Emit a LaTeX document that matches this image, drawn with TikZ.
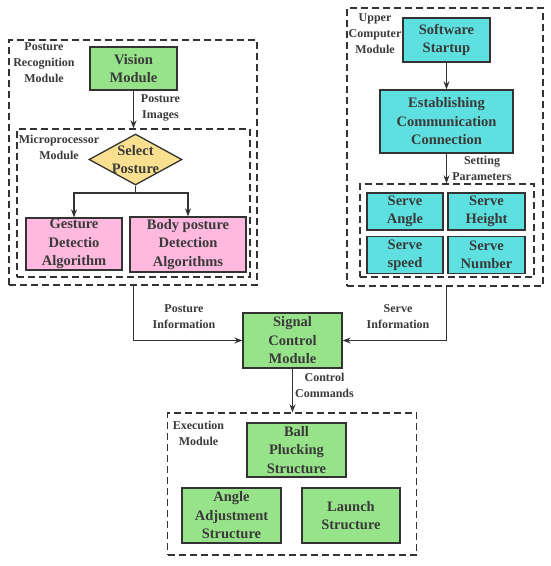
\documentclass[tikz,border=0pt]{standalone}
\usepackage{fontspec}
\setmainfont{Liberation Serif}
\usetikzlibrary{shapes.geometric,arrows.meta}
\definecolor{txt}{HTML}{3A3A3A}
\definecolor{edge}{HTML}{333333}
\definecolor{gfill}{HTML}{97E38A}
\definecolor{pfill}{HTML}{FFB8DE}
\definecolor{cfill}{HTML}{5EE0E0}
\definecolor{yfill}{HTML}{F9E090}
\tikzset{
  box/.style={draw=edge, line width=1.3pt, align=center, inner sep=0pt, text=txt,
    font=\fontsize{14.5}{18.5}\selectfont\bfseries},
  gbox/.style={box, fill=gfill},
  pbox/.style={box, fill=pfill},
  cbox/.style={box, fill=cfill},
  dbox/.style={draw=edge, line width=1.4pt, dash pattern=on 7pt off 4pt, inner sep=0pt},
  lab/.style={align=center, text=txt, inner sep=0pt, font=\fontsize{12}{16}\selectfont\bfseries},
  arr/.style={draw=edge, line width=1.2pt, -{Stealth[length=8pt,width=6pt]}},
  ln/.style={draw=edge, line width=1.2pt}
}
\begin{document}
\begin{tikzpicture}[x=1pt,y=-1pt]
\useasboundingbox[fill=white] (0,0) rectangle (550,566);
% dashed module boxes
\node[dbox, minimum width=248pt, minimum height=245pt] (prm) at (133,162.5) {};
\node[dbox, minimum width=233pt, minimum height=148pt] (micro) at (133.5,203) {};
\node[dbox, minimum width=196pt, minimum height=278pt] (ucm) at (445,147) {};
\node[dbox, minimum width=174pt, minimum height=93pt] (params) at (447,230.5) {};
\node[dbox, minimum width=249pt, minimum height=142pt] (exec) at (292,484) {};
% module labels
\node[lab] (prmlab) at (44,63) {Posture\\Recognition\\Module};
\node[lab] (microlab) at (59,147.5) {Microprocessor\\Module};
\node[lab] (ucmlab) at (375,34) {Upper\\Computer\\Module};
\node[lab] (execlab) at (198.5,433) {Execution\\Module};
% posture recognition
\node[gbox, minimum width=87pt, minimum height=43pt] (vision) at (133.5,68.5) {Vision\\Module};
\node[diamond, draw=edge, line width=1.3pt, fill=yfill, minimum width=93pt, minimum height=51pt, aspect=1.8, inner sep=0pt] (sel) at (135.5,159.5) {};
\node[box, draw=none] (seltxt) at (sel) {Select\\Posture};
\node[pbox, minimum width=96pt, minimum height=52pt] (gest) at (74,244) {Gesture\\Detectio\\Algorithm};
\node[pbox, minimum width=116pt, minimum height=55pt] (body) at (188,244.5) {Body posture\\Detection\\Algorithms};
% upper computer
\node[cbox, minimum width=87pt, minimum height=44pt] (soft) at (446.5,40) {Software\\Startup};
\node[cbox, minimum width=133pt, minimum height=63pt] (est) at (446.5,121.5) {Establishing\\Communication\\Connection};
\node[cbox, minimum width=76pt, minimum height=37pt] (angle) at (405,211.5) {Serve\\Angle};
\node[cbox, minimum width=77pt, minimum height=37pt] (height) at (486.5,211.5) {Serve\\Height};
\node[cbox, minimum width=76pt, minimum height=37pt] (speed) at (405,255) {Serve\\speed};
\node[cbox, minimum width=77pt, minimum height=37pt] (number) at (486.5,255) {Serve\\Number};
% signal control
\node[gbox, minimum width=99pt, minimum height=55pt] (signal) at (292.5,340.5) {Signal\\Control\\Module};
% execution
\node[gbox, minimum width=99pt, minimum height=54pt] (ball) at (296.5,450) {Ball\\Plucking\\Structure};
\node[gbox, minimum width=99pt, minimum height=55pt] (adj) at (231.5,515.5) {Angle\\Adjustment\\Structure};
\node[gbox, minimum width=98pt, minimum height=55pt] (launch) at (351,515.5) {Launch\\Structure};
% connector labels
\node[lab] (imglab) at (160.5,108) {Posture\\Images};
\node[lab] (setlab) at (482,168.5) {Setting\\Parameters};
\node[lab] (pinfo) at (184,317) {Posture\\Information};
\node[lab] (sinfo) at (398,317) {Serve\\Information};
\node[lab] (cmdlab) at (324.5,385) {Control\\Commands};
% connectors
\draw[arr] (vision.south) -- (vision.south |- micro.north);
\coordinate (br) at (135.5,193);
\draw[ln] (sel.south) -- (br);
\draw[arr] (br) -| (gest.north);
\draw[arr] (br) -| (body.north);
\draw[arr] (soft.south) -- (est.north);
\draw[arr] (est.south) -- (est.south |- params.north);
\draw[arr] (vision.south |- prm.south) |- (signal.west);
\draw[arr] (soft.south |- ucm.south) |- (signal.east);
\draw[arr] (signal.south) -- (signal.south |- exec.north);
\end{tikzpicture}
\end{document}
